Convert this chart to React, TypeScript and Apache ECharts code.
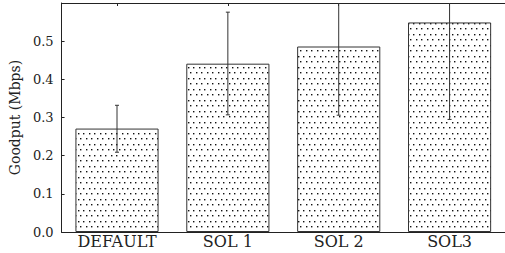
import React, { useEffect, useRef } from "react";
import * as echarts from "echarts";

const categories = ["DEFAULT", "SOL 1", "SOL 2", "SOL3"];
const goodput = [0.271, 0.441, 0.486, 0.549];
const errLow = [0.209, 0.307, 0.306, 0.295];
const errHigh = [0.332, 0.576, 0.666, 0.803];
const yTicks = [0, 0.1, 0.2, 0.3, 0.4, 0.5, 0.6];

const FONT = "DejaVu Serif";

function makePattern(): HTMLCanvasElement {
  const c = document.createElement("canvas");
  c.width = 11;
  c.height = 11;
  const ctx = c.getContext("2d")!;
  ctx.fillStyle = "#ffffff";
  ctx.fillRect(0, 0, 11, 11);
  ctx.fillStyle = "#111111";
  const dots = [
    [1, 1],
    [6, 1],
    [3, 6],
    [9, 6],
  ];
  dots.forEach(([x, y]) => {
    ctx.fillRect(x, y, 1.4, 1.4);
  });
  return c;
}

export default function App() {
  const ref = useRef<HTMLDivElement>(null);
  useEffect(() => {
    if (!ref.current) return;
    const chart = echarts.init(ref.current, null, { renderer: "svg" });
    const pattern = makePattern();
    const errData = categories.map((_, i) => [i, errLow[i], errHigh[i]]);
    chart.setOption({
      animation: false,
      backgroundColor: "#ffffff",
      grid: { left: 61, top: 3, bottom: 21, right: -3, containLabel: false },
      xAxis: [
        {
          type: "category",
          data: categories,
          position: "bottom",
          axisLine: { show: true, lineStyle: { color: "#222", width: 1 } },
          axisTick: { show: true, inside: true, alignWithLabel: true, length: 3, lineStyle: { color: "#222" } },
          axisLabel: { color: "#222", fontFamily: FONT, fontSize: 16, margin: 1 },
          splitLine: { show: false },
        },
        {
          type: "category",
          data: categories,
          position: "top",
          axisLine: { show: true, lineStyle: { color: "#222", width: 1 } },
          axisTick: { show: true, inside: true, alignWithLabel: true, length: 3, lineStyle: { color: "#222" } },
          axisLabel: { show: false },
          splitLine: { show: false },
        },
      ],
      yAxis: {
        type: "value",
        min: yTicks[0],
        max: yTicks[yTicks.length - 1],
        interval: 0.1,
        name: "Goodput (Mbps)",
        nameLocation: "middle",
        nameGap: 35,
        nameTextStyle: { color: "#222", fontFamily: FONT, fontSize: 14 },
        axisLine: { show: true, lineStyle: { color: "#222", width: 1 } },
        axisTick: { show: true, inside: true, length: 3, lineStyle: { color: "#222" } },
        axisLabel: {
          color: "#222",
          fontFamily: FONT,
          fontSize: 13,
          margin: 8,
          showMaxLabel: false,
          formatter: (v: number) => v.toFixed(1),
        },
        splitLine: { show: false },
      },
      series: [
        {
          type: "bar",
          data: goodput,
          barWidth: "75%",
          itemStyle: {
            color: { image: pattern, repeat: "repeat" },
            borderColor: "#333",
            borderWidth: 1,
          },
        },
        {
          type: "custom",
          data: errData,
          clip: true,
          z: 5,
          renderItem: (params: any, api: any) => {
            const i = api.value(0);
            const lo = api.coord([i, api.value(1)]);
            const hi = api.coord([i, api.value(2)]);
            const cap = 2;
            const style = { stroke: "#333", lineWidth: 1 };
            return {
              type: "group",
              children: [
                { type: "line", shape: { x1: lo[0], y1: lo[1], x2: hi[0], y2: hi[1] }, style },
                { type: "line", shape: { x1: lo[0] - cap, y1: lo[1], x2: lo[0] + cap, y2: lo[1] }, style },
                { type: "line", shape: { x1: hi[0] - cap, y1: hi[1], x2: hi[0] + cap, y2: hi[1] }, style },
              ],
            };
          },
        },
      ],
    });
    return () => chart.dispose();
  }, []);
  return <div ref={ref} style={{ width: 505, height: 253, position: "absolute", left: 0, top: 0 }} />;
}
